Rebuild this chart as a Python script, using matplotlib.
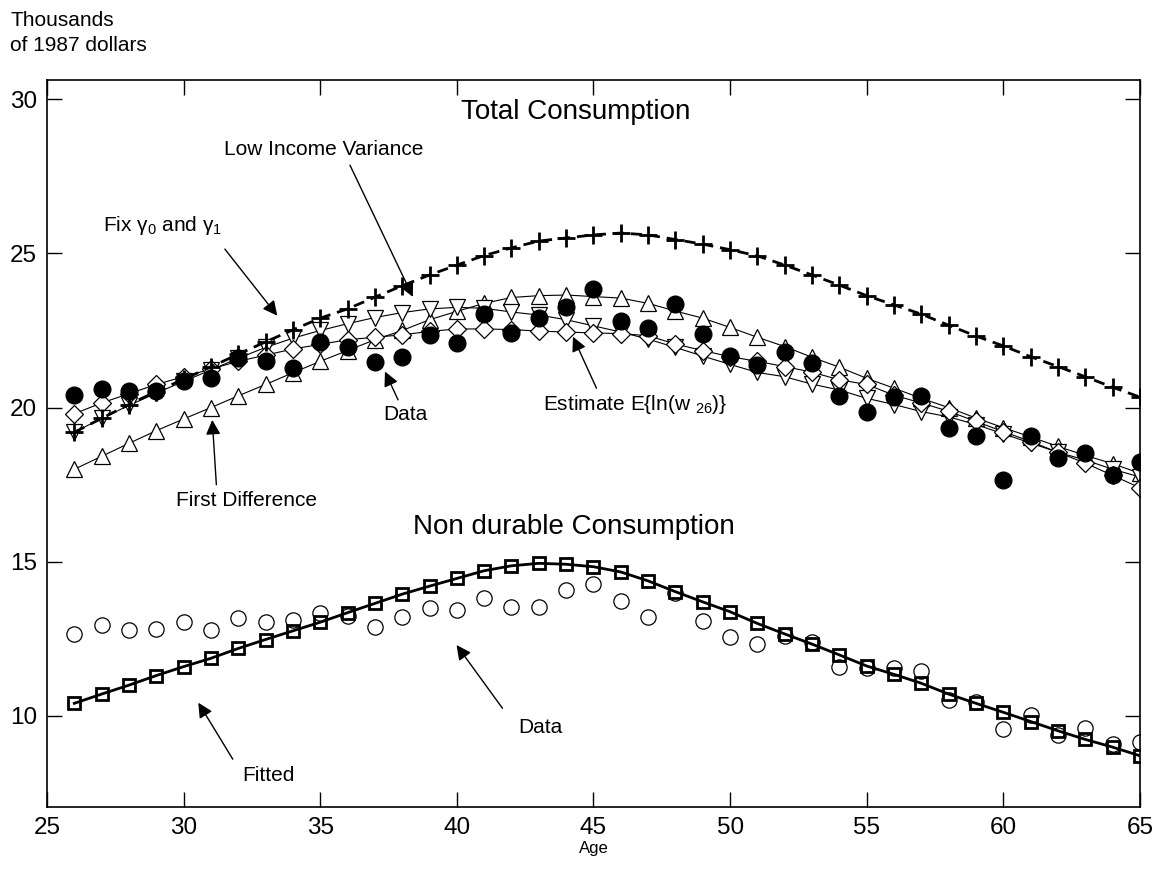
import matplotlib
matplotlib.use("Agg")
import matplotlib.pyplot as plt
import numpy as np

plt.rcParams['font.family'] = ['Liberation Sans', 'DejaVu Sans']
plt.rcParams['mathtext.fontset'] = 'custom'
plt.rcParams['mathtext.rm'] = 'Liberation Sans'
plt.rcParams['mathtext.it'] = 'Liberation Sans:italic'

# ages 26..65
age = list(range(26, 66))

# --- Total consumption (thousands of 1987 dollars) ---
total_data = [20.41, 20.60, 20.55, 20.55, 20.85, 20.95, 21.62, 21.50, 21.30, 22.14,
              21.98, 21.47, 21.65, 22.35, 22.10, 23.03, 22.43, 22.90, 23.25, 23.84,
              22.82, 22.57, 23.36, 22.38, 21.67, 21.38, 21.81, 21.46, 20.38, 19.85,
              20.34, 20.36, 19.35, 19.09, 17.64, 19.08, 18.36, 18.52, 17.82, 18.22]
fix_gamma = [19.20, 19.65, 20.10, 20.52, 20.92, 21.32, 21.73, 22.13, 22.52, 22.90,
             23.20, 23.58, 23.95, 24.30, 24.62, 24.93, 25.18, 25.40, 25.50, 25.60,
             25.66, 25.60, 25.45, 25.30, 25.12, 24.92, 24.62, 24.30, 23.97, 23.63,
             23.33, 23.03, 22.67, 22.32, 22.00, 21.65, 21.33, 21.00, 20.66, 20.34]
low_var = [19.20, 19.65, 20.07, 20.47, 20.85, 21.22, 21.60, 21.95, 22.25, 22.50,
           22.72, 22.92, 23.08, 23.20, 23.25, 23.22, 23.10, 23.00, 22.85, 22.65,
           22.45, 22.22, 21.95, 21.67, 21.40, 21.14, 21.00, 20.76, 20.57, 20.30,
           20.10, 19.87, 19.70, 19.45, 19.15, 18.85, 18.55, 18.30, 18.00, 17.75]
first_diff = [18.00, 18.42, 18.84, 19.25, 19.63, 20.00, 20.38, 20.75, 21.13, 21.50,
              21.85, 22.20, 22.50, 22.85, 23.12, 23.38, 23.57, 23.63, 23.65, 23.60,
              23.55, 23.38, 23.13, 22.90, 22.60, 22.28, 21.98, 21.63, 21.31, 20.95,
              20.63, 20.30, 20.00, 19.66, 19.35, 19.05, 18.74, 18.45, 18.18, 17.87]
est_w26 = [19.80, 20.15, 20.45, 20.75, 21.00, 21.25, 21.50, 21.70, 21.90, 22.05,
           22.20, 22.28, 22.36, 22.47, 22.55, 22.55, 22.53, 22.48, 22.45, 22.42,
           22.40, 22.33, 22.06, 21.85, 21.65, 21.50, 21.33, 21.15, 20.90, 20.75,
           20.40, 20.15, 19.88, 19.55, 19.22, 18.90, 18.55, 18.20, 17.80, 17.40]

# --- Non durable consumption ---
nondur_data = [12.65, 12.95, 12.79, 12.82, 13.04, 12.79, 13.18, 13.05, 13.11, 13.35,
               13.24, 12.89, 13.22, 13.49, 13.43, 13.83, 13.52, 13.52, 14.08, 14.28,
               13.74, 13.22, 13.99, 13.09, 12.55, 12.33, 12.59, 12.41, 11.60, 11.55,
               11.55, 11.47, 10.53, 10.46, 9.57, 10.03, 9.38, 9.60, 9.09, 9.15]
nondur_fit = [10.41, 10.71, 11.00, 11.31, 11.60, 11.87, 12.19, 12.48, 12.76, 13.04,
              13.35, 13.65, 13.95, 14.21, 14.46, 14.71, 14.87, 14.95, 14.92, 14.84,
              14.67, 14.38, 14.03, 13.70, 13.38, 13.00, 12.66, 12.33, 11.98, 11.62,
              11.35, 11.06, 10.71, 10.41, 10.12, 9.82, 9.52, 9.24, 8.99, 8.71]

fig = plt.figure(figsize=(11.65, 8.8), dpi=100)
ax = fig.add_axes([0.0403, 0.083, 0.9382, 0.826])

thin = dict(color='black', linewidth=0.8, markerfacecolor='white',
            markeredgecolor='black', markeredgewidth=0.9)

# model curves (thin lines with open markers)
ax.plot(age, first_diff, marker='^', markersize=12, **thin)
ax.plot(age, low_var, marker='v', markersize=12, **thin)
ax.plot(age, est_w26, marker='D', markersize=9, **thin)
# fixed gammas: thick dashed line with plus markers
ax.plot(age, fix_gamma, color='black', linewidth=2, linestyle=(0, (4, 2.5)),
        marker='+', markersize=13, markeredgewidth=2)
# data points
ax.plot(age, total_data, linestyle='none', marker='o', markersize=12,
        markerfacecolor='black', markeredgecolor='black')

# non durable
ax.plot(age, nondur_data, linestyle='none', marker='o', markersize=11,
        markerfacecolor='none', markeredgecolor='black', markeredgewidth=0.9)
ax.plot(age, nondur_fit, color='black', linewidth=2, marker='s', markersize=9,
        markerfacecolor='none', markeredgecolor='black', markeredgewidth=2)

ax.set_xlim(25, 65)
ax.set_ylim(7.05, 30.62)
ax.set_xticks(range(25, 70, 5))
ax.set_yticks([10, 15, 20, 25, 30])
ax.tick_params(direction='in', length=11, width=1, top=True, right=True,
               labelsize=17.5, pad=7)
for s in ax.spines.values():
    s.set_linewidth(1.2)
ax.set_xlabel('Age', fontsize=12, labelpad=2)

fig.text(0.0086, 0.988, 'Thousands\nof 1987 dollars', fontsize=15,
         ha='left', va='top', linespacing=1.45)

arrow = dict(arrowstyle='-|>', color='black', linewidth=1, mutation_scale=22,
             shrinkA=0, shrinkB=0)

ax.text(44.34, 29.37, 'Total Consumption', fontsize=20, ha='center', va='baseline')
ax.text(35.12, 28.19, 'Low Income Variance', fontsize=15, ha='center', va='baseline')
ax.annotate('', xy=(38.39, 23.59), xytext=(36.09, 27.86), arrowprops=arrow)
ax.text(27.05, 25.72, 'Fix γ$_0$ and γ$_1$', fontsize=15, ha='left', va='baseline')
ax.annotate('', xy=(33.43, 22.98), xytext=(31.51, 25.14), arrowprops=arrow)
ax.text(38.1, 19.6, 'Data', fontsize=15, ha='center', va='baseline')
ax.annotate('', xy=(37.37, 21.17), xytext=(37.85, 20.25), arrowprops=arrow)
ax.text(43.15, 19.93, 'Estimate E{ln(w $_{26}$)}', fontsize=15, ha='left', va='baseline')
ax.annotate('', xy=(44.25, 22.30), xytext=(45.11, 20.63), arrowprops=arrow)
ax.text(32.3, 16.8, 'First Difference', fontsize=15, ha='center', va='baseline')
ax.annotate('', xy=(31.05, 19.6), xytext=(31.2, 17.5), arrowprops=arrow)

ax.text(44.3, 15.9, 'Non durable Consumption', fontsize=20, ha='center', va='baseline')
ax.text(33.1, 7.9, 'Fitted', fontsize=15, ha='center', va='baseline')
ax.annotate('', xy=(30.54, 10.43), xytext=(31.8, 8.6), arrowprops=arrow)
ax.text(43.04, 9.45, 'Data', fontsize=15, ha='center', va='baseline')
ax.annotate('', xy=(39.99, 12.3), xytext=(41.67, 10.25), arrowprops=arrow)

fig.savefig('out.png', dpi=100)
